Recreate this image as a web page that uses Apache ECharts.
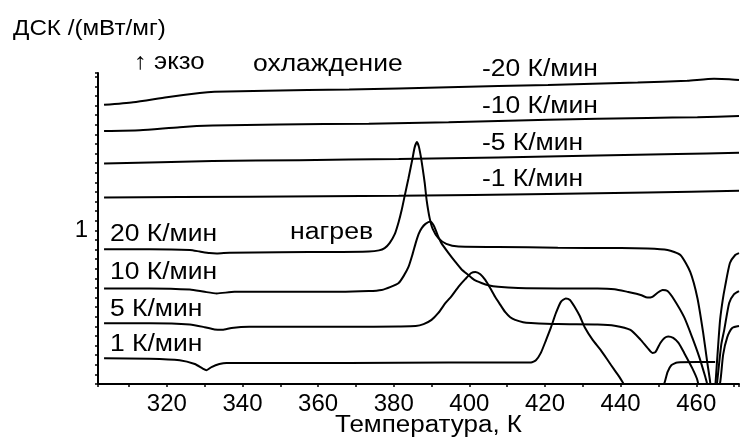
<!DOCTYPE html>
<html>
<head>
<meta charset="utf-8">
<script src="https://cdn.jsdelivr.net/npm/echarts@6/dist/echarts.min.js"></script>
<style>
  html, body { margin: 0; padding: 0; background: #fff; }
  #chart { width: 742px; height: 443px; }
</style>
</head>
<body>
<div id="chart"></div>
<script>
// DSC traces: temperature (K) and heat flow (arb. offset units, mW/mg scale)

// cooling runs
const coolT20 = [303.4, 311.1, 320.0, 328.7, 332.6, 346.3, 368.2, 394.5, 420.8, 444.5, 457.6, 464.7, 468.7, 471.3];
const coolV20 = [4.27, 4.34, 4.47, 4.58, 4.61, 4.64, 4.67, 4.73, 4.79, 4.85, 4.90, 4.95, 4.94, 4.92];

const coolT10 = [303.4, 312.9, 323.4, 332.1, 349.7, 373.4, 394.5, 420.8, 447.1, 460.3, 471.3];
const coolV10 = [3.59, 3.61, 3.69, 3.73, 3.76, 3.78, 3.82, 3.88, 3.93, 3.95, 3.98];

const coolT5 = [303.4, 332.1, 355.0, 381.3, 407.6, 433.9, 455.0, 471.3];
const coolV5 = [2.74, 2.81, 2.83, 2.86, 2.90, 2.95, 2.99, 3.02];

const coolT1 = [303.4, 341.8, 381.3, 420.8, 447.1, 471.3];
const coolV1 = [1.86, 1.88, 1.90, 1.95, 1.99, 2.03];

// heating runs
const heatT20 = [303.4, 315.5, 326.1, 328.7, 331.3, 333.2, 336.6, 349.7, 365.5, 373.4, 376.1, 377.6, 378.9, 380.3,
  381.3, 382.1, 382.9, 383.9, 385.0, 385.5, 386.1, 386.6, 387.1, 387.6, 388.2, 388.7, 389.5, 390.3, 391.8, 393.9,
  397.1, 407.6, 423.4, 439.2, 447.1, 452.4, 455.8, 458.4, 460.3, 461.8, 462.9, 463.7, 464.5, 465.1, 465.8, 466.3,
  467.0, 467.6, 468.9, 470.3, 471.3];
const heatV20 = [0.51, 0.51, 0.49, 0.45, 0.41, 0.40, 0.42, 0.43, 0.44, 0.45, 0.48, 0.54, 0.67, 0.91,
  1.22, 1.53, 1.90, 2.36, 2.89, 3.15, 3.30, 3.20, 2.96, 2.65, 2.23, 1.79, 1.32, 1.04, 0.80, 0.65,
  0.58, 0.57, 0.55, 0.54, 0.53, 0.49, 0.36, -0.08, -0.76, -1.65, -2.43, -2.97, -3.94, -2.97, -1.98, -1.33,
  -0.81, -0.47, 0.15, 0.36, 0.41];

const heatT10 = [303.4, 315.5, 326.1, 330.0, 333.2, 337.9, 349.7, 365.5, 373.4, 376.8, 379.2, 381.3, 382.6, 383.9,
  385.0, 385.8, 386.6, 387.4, 388.4, 389.7, 390.5, 391.1, 391.8, 392.6, 394.5, 396.3, 397.9, 399.7, 401.3, 403.2,
  405.0, 407.6, 412.9, 423.4, 433.9, 438.4, 441.8, 445.3, 447.1, 448.4, 449.7, 451.1, 452.4, 454.2, 456.8, 458.9,
  460.8, 462.4, 462.8, 464.1, 465.5, 466.6, 467.4, 468.7, 470.0, 471.3];
const heatV10 = [-0.51, -0.51, -0.54, -0.60, -0.64, -0.60, -0.60, -0.60, -0.58, -0.55, -0.47, -0.37, -0.19, 0.05,
  0.39, 0.67, 0.91, 1.06, 1.17, 1.23, 1.14, 1.01, 0.83, 0.67, 0.41, 0.18, -0.01, -0.16, -0.29, -0.37,
  -0.43, -0.47, -0.50, -0.51, -0.51, -0.53, -0.60, -0.68, -0.75, -0.73, -0.63, -0.55, -0.58, -0.81, -1.26, -1.78,
  -2.30, -2.82, -2.97, -4.20, -2.97, -1.98, -1.59, -0.89, -0.66, -0.58];

const heatT5 = [303.4, 315.5, 326.1, 330.0, 332.6, 334.7, 337.1, 341.8, 355.0, 368.2, 381.3, 385.8, 387.9, 390.0,
  391.8, 393.7, 395.3, 397.1, 398.9, 400.5, 401.6, 402.9, 404.2, 405.5, 406.8, 408.2, 409.5, 410.8, 412.1, 414.2,
  416.3, 423.4, 433.9, 438.4, 442.6, 445.3, 447.1, 448.4, 449.2, 450.5, 451.6, 452.6, 453.9, 455.3, 456.8, 458.9,
  460.3, 463.2, 466.3, 467.1, 468.2, 469.5, 471.3];
const heatV5 = [-1.42, -1.42, -1.45, -1.52, -1.58, -1.59, -1.54, -1.51, -1.51, -1.51, -1.50, -1.49, -1.44, -1.33,
  -1.15, -0.89, -0.71, -0.47, -0.27, -0.11, -0.08, -0.14, -0.29, -0.50, -0.73, -0.94, -1.13, -1.26, -1.33, -1.39,
  -1.41, -1.44, -1.45, -1.48, -1.59, -1.85, -2.06, -2.19, -2.17, -1.93, -1.80, -1.76, -1.80, -1.93, -2.19, -2.58,
  -2.90, -4.20, -2.97, -2.24, -1.78, -1.54, -1.49];

const heatT1 = [303.4, 315.5, 323.4, 327.4, 329.5, 330.5, 331.8, 333.9, 335.8, 344.5, 368.2, 394.5, 416.3, 417.6,
  418.9, 420.3, 421.6, 422.9, 424.2, 425.5, 426.6, 427.9, 429.2, 430.5, 432.6, 434.7, 436.6, 438.4, 439.7, 440.5,
  442.6, 446.1, 449.7, 451.6, 452.4, 453.4, 455.0, 460.3, 465.0];
const heatV1 = [-2.33, -2.34, -2.38, -2.48, -2.60, -2.64, -2.56, -2.48, -2.45, -2.45, -2.45, -2.44, -2.44, -2.38,
  -2.19, -1.85, -1.52, -1.15, -0.86, -0.77, -0.81, -1.00, -1.23, -1.52, -1.85, -2.11, -2.38, -2.64, -2.82, -2.95,
  -3.29, -3.68, -3.42, -2.97, -2.69, -2.51, -2.44, -2.43, -2.43];

// axis ticks
const xLabelValues = [320, 340, 360, 380, 400, 420, 440, 460];
const yLabelValues = [1];

// text annotations
const titleText = 'ДСК /(мВт/мг)';
const xAxisTitle = 'Температура, К';
const exoText = '↑ экзо';
const coolingText = 'охлаждение';
const heatingText = 'нагрев';
const coolLabels = ['-20 К/мин', '-10 К/мин', '-5 К/мин', '-1 К/мин'];
const heatLabels = ['20 К/мин', '10 К/мин', '5 К/мин', '1 К/мин'];

const FONT = '"Liberation Sans", Arial, sans-serif';

function zip(t, v) { return t.map((x, i) => [x, v[i]]); }

const runs = [
  { name: coolLabels[0], data: zip(coolT20, coolV20) },
  { name: coolLabels[1], data: zip(coolT10, coolV10) },
  { name: coolLabels[2], data: zip(coolT5, coolV5) },
  { name: coolLabels[3], data: zip(coolT1, coolV1) },
  { name: heatLabels[0], data: zip(heatT20, heatV20) },
  { name: heatLabels[1], data: zip(heatT10, heatV10) },
  { name: heatLabels[2], data: zip(heatT5, heatV5) },
  { name: heatLabels[3], data: zip(heatT1, heatV1) }
];

// annotation placement (left x, vertical middle y); the lettering is set slightly wide
const notes = [
  { text: titleText, x: 13, y: 29, size: 22, sx: 1.1 },
  { text: exoText, x: 134, y: 63, size: 23, sx: 1.12 },
  { text: coolingText, x: 253, y: 65, size: 23, sx: 1.15 },
  { text: coolLabels[0], x: 482, y: 70, size: 23, sx: 1.15 },
  { text: coolLabels[1], x: 482, y: 106.5, size: 23, sx: 1.15 },
  { text: coolLabels[2], x: 482, y: 143.5, size: 23, sx: 1.15 },
  { text: coolLabels[3], x: 482, y: 180, size: 23, sx: 1.15 },
  { text: heatLabels[0], x: 110, y: 235, size: 23, sx: 1.15 },
  { text: heatingText, x: 290, y: 232.5, size: 23, sx: 1.16 },
  { text: heatLabels[1], x: 110, y: 273, size: 23, sx: 1.15 },
  { text: heatLabels[2], x: 110, y: 310, size: 23, sx: 1.15 },
  { text: heatLabels[3], x: 110, y: 344.5, size: 23, sx: 1.15 },
  { text: xAxisTitle, x: 335, y: 426, size: 23, sx: 1.13 }
];

const chart = echarts.init(document.getElementById('chart'), null, { renderer: 'canvas' });

chart.setOption({
  animation: false,
  backgroundColor: '#fff',
  grid: { left: 98, right: 0, top: 73, bottom: 59, containLabel: false },
  xAxis: {
    type: 'value',
    min: 301.8,
    max: 471.3,
    splitNumber: 17,
    minInterval: 10,
    maxInterval: 10,
    axisLine: { show: true, onZero: false, lineStyle: { color: '#000', width: 2 } },
    axisTick: { show: true, inside: false, length: 3, lineStyle: { color: '#000', width: 1.5 } },
    axisLabel: {
      show: true, margin: 8, color: '#000', fontSize: 24, fontFamily: FONT,
      formatter: v => (xLabelValues.indexOf(v) >= 0 ? String(v) : '')
    },
    splitLine: { show: false }
  },
  yAxis: {
    type: 'value',
    min: -3,
    max: 5.1,
    interval: 0.25,
    axisLine: { show: true, onZero: false, lineStyle: { color: '#000', width: 2 } },
    axisTick: { show: true, inside: false, length: 3, lineStyle: { color: '#000', width: 1.5 } },
    axisLabel: {
      show: true, margin: 10, color: '#000', fontSize: 24, fontFamily: FONT,
      padding: [0, 0, 16, 0],
      formatter: v => (yLabelValues.indexOf(v) >= 0 ? String(v) : '')
    },
    splitLine: { show: false }
  },
  series: runs.map(r => ({
    type: 'line',
    name: r.name,
    data: r.data,
    showSymbol: false,
    smooth: 0.2,
    clip: true,
    lineStyle: { color: '#000', width: 2 },
    emphasis: { disabled: true }
  })),
  graphic: notes.map(n => ({
    type: 'text',
    x: n.x,
    y: n.y,
    scaleX: n.sx,
    silent: true,
    style: {
      text: n.text,
      fill: '#000',
      font: n.size + 'px ' + FONT,
      textAlign: 'left',
      textVerticalAlign: 'middle'
    }
  }))
});
</script>
</body>
</html>
